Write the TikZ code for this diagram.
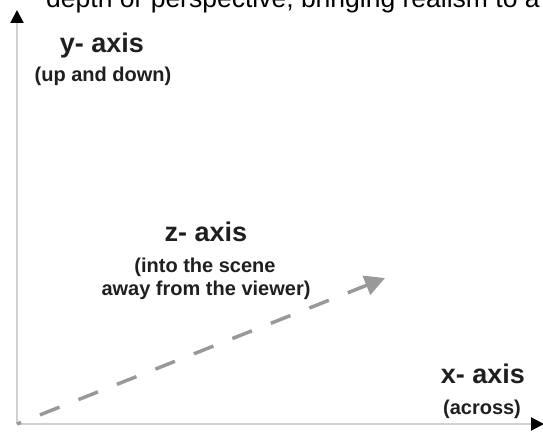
\documentclass[tikz,border=0pt]{standalone}
\usepackage{fontspec}
\setmainfont{Liberation Sans}
\usetikzlibrary{arrows.meta}
\begin{document}
\begin{tikzpicture}[x=1bp,y=-1bp,
  axisline/.style={draw=black!18, line width=2bp},
  axistip/.style={-{Triangle[length=13bp,width=13bp,black]}},
  zline/.style={draw=black!40, line width=3.5bp, dash pattern=on 21bp off 20.4bp, dash phase=16.7bp,
    -{Triangle[length=20bp,width=20bp,black!40]}},
  biglabel/.style={font=\bfseries\fontsize{27bp}{30bp}\selectfont, inner sep=0pt, anchor=base, text=black!88},
  smalllabel/.style={font=\bfseries\fontsize{20bp}{23bp}\selectfont, inner sep=0pt, anchor=base, text=black!88},
  toptext/.style={font=\fontsize{26.5bp}{30bp}\selectfont, inner sep=0pt, anchor=base west, text=black}]
\useasboundingbox (0,0) rectangle (543,433);
\clip (0,0) rectangle (543,433);
\node[toptext] (top) at (46,8) {depth or perspective, bringing realism to a};
\coordinate (O) at (17,424);
\coordinate (Y) at (17,10);
\coordinate (X) at (544,424);
\coordinate (Z) at (385,278);
\draw[axisline, axistip] (O) -- (Y);
\draw[axisline, axistip] (O) -- (X);
\draw[zline] (O) -- (Z);
\node[biglabel] (ylab) at (102,53) {y- axis};
\node[smalllabel] (ysub) at (103,82) {(up and down)};
\node[biglabel] (zlab) at (206,242) {z- axis};
\node[smalllabel] (zsub1) at (205,272) {(into the scene};
\node[smalllabel] (zsub2) at (206,295) {away from the viewer)};
\node[biglabel] (xlab) at (483,383) {x- axis};
\node[smalllabel] (xsub) at (482,414) {(across)};
\end{tikzpicture}
\end{document}
